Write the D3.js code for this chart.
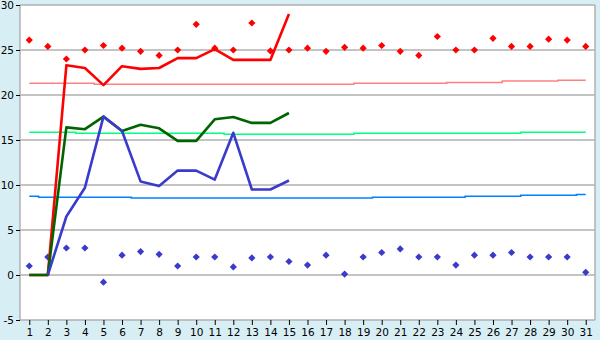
<!DOCTYPE html>
<html>
<head>
<meta charset="utf-8">
<script src="https://cdn.jsdelivr.net/npm/d3@7"></script>
<style>
  body { margin: 0; background: #d8eef5; }
  text { font-family: "DejaVu Sans", Verdana, sans-serif; font-size: 10.5px; fill: #000; }
</style>
</head>
<body>
<div id="chart"></div>
<script>
// Categories: days 1..31
const days = d3.range(1, 32).map(String);
const yTicks = [-5, 0, 5, 10, 15, 20, 25, 30];

// Daily lines (first half of month only)
const redLine   = [0, 0, 23.3, 23.0, 21.1, 23.2, 22.9, 23.0, 24.1, 24.1, 25.1, 23.9, 23.9, 23.9, 29.0];
const greenLine = [0, 0, 16.4, 16.2, 17.6, 16.0, 16.7, 16.3, 14.9, 14.9, 17.3, 17.55, 16.9, 16.9, 18.0];
const blueLine  = [null, 0, 6.5, 9.7, 17.6, 16.0, 10.4, 9.9, 11.6, 11.6, 10.6, 15.8, 9.5, 9.5, 10.5];

// Record markers (diamonds)
const redPoints  = [26.1, 25.4, 24.0, 25.0, 25.5, 25.2, 24.85, 24.4, 25.0, 27.85,
                    25.2, 25.0, 28.0, 24.9, 25.0, 25.2, 24.85, 25.3, 25.2, 25.5,
                    24.85, 24.4, 26.5, 25.0, 25.0, 26.3, 25.4, 25.4, 26.2, 26.1, 25.4];
const bluePoints = [1.0, 2.0, 3.0, 3.0, -0.8, 2.2, 2.6, 2.3, 1.0, 2.0,
                    2.0, 0.9, 1.9, 2.0, 1.5, 1.1, 2.2, 0.1, 2.0, 2.5,
                    2.9, 2.0, 2.0, 1.1, 2.2, 2.2, 2.5, 2.0, 2.0, 2.0, 0.3];

// Long-term averages (thin)
const pinkAvg  = [21.3, 21.3, 21.3, 21.3, 21.2, 21.2, 21.2, 21.2, 21.2, 21.2,
                  21.2, 21.2, 21.2, 21.2, 21.2, 21.2, 21.2, 21.2, 21.3, 21.3,
                  21.3, 21.3, 21.3, 21.4, 21.4, 21.4, 21.55, 21.55, 21.55, 21.65, 21.65];
const greenAvg = [15.85, 15.85, 15.85, 15.75, 15.75, 15.75, 15.75, 15.75, 15.75, 15.75,
                  15.75, 15.65, 15.65, 15.65, 15.65, 15.65, 15.65, 15.65, 15.75, 15.75,
                  15.75, 15.75, 15.75, 15.75, 15.75, 15.75, 15.75, 15.85, 15.85, 15.85, 15.85];
const blueAvg  = [8.75, 8.65, 8.65, 8.65, 8.65, 8.65, 8.55, 8.55, 8.55, 8.55,
                  8.55, 8.55, 8.55, 8.55, 8.55, 8.55, 8.55, 8.55, 8.55, 8.65,
                  8.65, 8.65, 8.65, 8.65, 8.75, 8.75, 8.75, 8.85, 8.85, 8.85, 8.95];

const width = 600, height = 340;
const plot = { left: 20, right: 595, top: 5, bottom: 320 };

const svg = d3.select('#chart').append('svg')
    .attr('width', width)
    .attr('height', height);

svg.append('rect')
    .attr('width', width).attr('height', height)
    .attr('fill', '#d8eef5');

const x = d3.scalePoint()
    .domain(days)
    .range([plot.left, plot.right])
    .padding(0.5);

const y = d3.scaleLinear()
    .domain([-5, 30])
    .range([plot.bottom, plot.top]);

// Plot area
svg.append('rect')
    .attr('x', plot.left).attr('y', plot.top)
    .attr('width', plot.right - plot.left)
    .attr('height', plot.bottom - plot.top)
    .attr('fill', '#fff');

// Grid lines
svg.append('g')
  .selectAll('line')
  .data(yTicks)
  .join('line')
    .attr('x1', plot.left).attr('x2', plot.right)
    .attr('y1', d => y(d)).attr('y2', d => y(d))
    .attr('stroke', '#b0b0b0')
    .attr('stroke-width', 1.5);

// Frame left/right
svg.append('g')
  .selectAll('line')
  .data([plot.left, plot.right])
  .join('line')
    .attr('x1', d => d).attr('x2', d => d)
    .attr('y1', plot.top).attr('y2', plot.bottom)
    .attr('stroke', '#b0b0b0')
    .attr('stroke-width', 1.5);

// Axes (plain hyphen for negatives, as in the original)
const yAxis = svg.append('g')
    .attr('transform', `translate(${plot.left},0)`)
    .call(d3.axisLeft(y).tickValues(yTicks).tickFormat(d => String(d)).tickSize(4).tickPadding(2));
const xAxis = svg.append('g')
    .attr('transform', `translate(0,${plot.bottom})`)
    .call(d3.axisBottom(x).tickSize(5).tickPadding(4));
[yAxis, xAxis].forEach(a => {
  a.select('.domain').remove();
  a.selectAll('.tick line').attr('stroke', '#000');
  a.selectAll('text').attr('font-family', null).attr('font-size', null);
});

// Thin average lines (stepped)
const stepLine = d3.line()
    .x((d, i) => x(days[i]))
    .y(d => y(d))
    .curve(d3.curveStep);

[[pinkAvg, '#ff8080'], [greenAvg, '#00ff80'], [blueAvg, '#0080ff']].forEach(([vals, color]) => {
  svg.append('path')
      .datum(vals)
      .attr('d', stepLine)
      .attr('fill', 'none')
      .attr('stroke', color)
      .attr('stroke-width', 1.5);
});

// Diamonds
const diamond = d3.symbol(d3.symbolSquare).size(26);
[[redPoints, '#ff0000'], [bluePoints, '#3a3acc']].forEach(([vals, color]) => {
  svg.append('g')
    .selectAll('path')
    .data(vals)
    .join('path')
      .attr('d', diamond)
      .attr('transform', (d, i) => `translate(${x(days[i])},${y(d)}) rotate(45)`)
      .attr('fill', color);
});

// Daily lines
const dayLine = d3.line()
    .defined(d => d !== null)
    .x((d, i) => x(days[i]))
    .y(d => y(d));

[[redLine, '#ff0000'], [greenLine, '#006400'], [blueLine, '#3a3acc']].forEach(([vals, color]) => {
  svg.append('path')
      .datum(vals)
      .attr('d', dayLine)
      .attr('fill', 'none')
      .attr('stroke', color)
      .attr('stroke-width', 2.6)
      .attr('stroke-linejoin', 'round');
});
</script>
</body>
</html>
